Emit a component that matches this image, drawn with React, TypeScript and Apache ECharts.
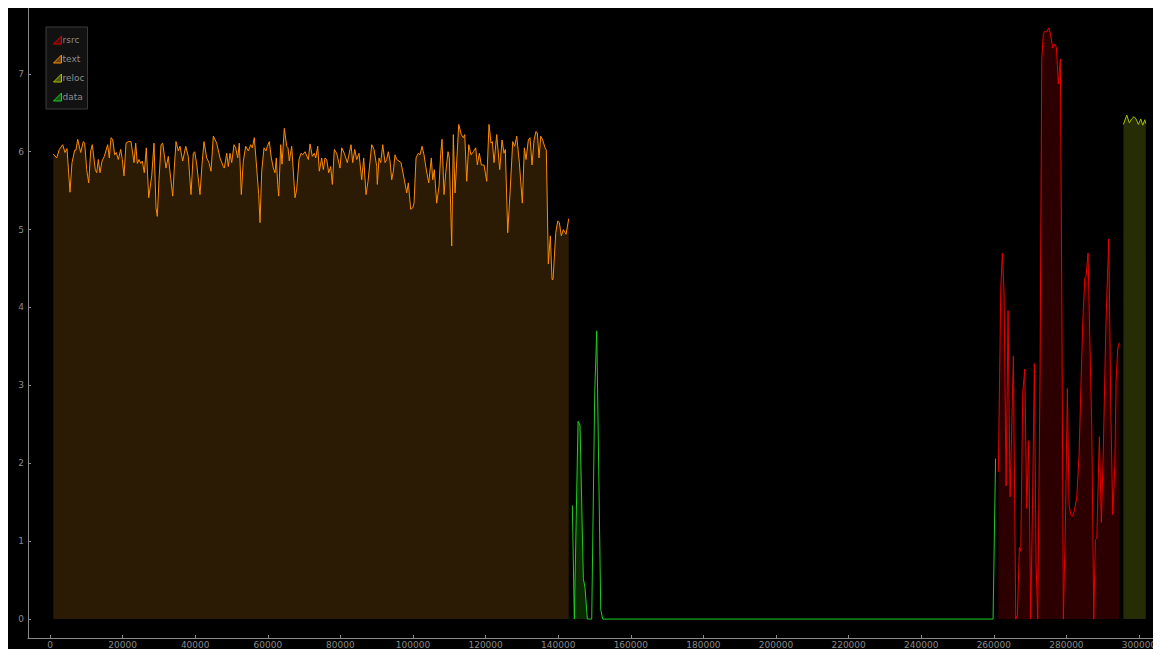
import { useEffect, useRef } from "react";
import * as echarts from "echarts";

// Section names (legend order)
const seriesNames = ["rsrc", "text", "reloc", "data"];

// Tick values
const xTickValues = [0, 20000, 40000, 60000, 80000, 100000, 120000, 140000, 160000, 180000, 200000, 220000, 240000, 260000, 280000, 300000];
const yTickValues = [0, 1, 2, 3, 4, 5, 6, 7];

// [file offset, entropy]
const textPoints: [number, number][] = [
  [909, 5.97], [1846, 5.92], [2562, 6.03], [3499, 6.09], [4133, 5.99], [4684, 6.04], [5510, 5.48], [6061, 5.86],
  [6805, 6.02], [7163, 6.02], [7631, 6.16], [8458, 5.99], [9174, 6.13], [9560, 6.11], [10111, 5.77], [10662, 5.6],
  [11213, 6.01], [11654, 6.09], [12480, 5.77], [12866, 5.73], [13307, 5.9], [13775, 5.73], [14326, 5.88], [14960, 5.94],
  [15896, 6.09], [16337, 5.92], [16806, 6.18], [17274, 6.16], [17825, 5.96], [18266, 5.99], [18817, 5.9], [19478, 6.03],
  [19919, 5.9], [20387, 5.69], [20938, 6.11], [21572, 6.13], [22316, 6.13], [23142, 5.86], [23610, 6.11], [24051, 5.85],
  [24520, 5.9], [24988, 5.85], [25429, 5.88], [25980, 5.73], [26531, 6.05], [27192, 5.41], [28018, 5.69], [28652, 6.11],
  [29203, 5.28], [29561, 5.17], [30030, 5.64], [30581, 6.09], [31049, 6.11], [31958, 5.79], [32592, 5.94], [33253, 5.66],
  [33804, 5.43], [34245, 5.79], [34713, 6.13], [35347, 6.01], [35815, 6.07], [36559, 5.88], [37385, 6.07], [38102, 5.94],
  [38846, 5.45], [39479, 5.98], [39865, 6.0], [40416, 5.84], [41325, 5.45], [41876, 5.84], [42427, 6.13], [43171, 5.92],
  [43805, 5.86], [44356, 5.75], [44989, 6.2], [45926, 6.11], [46835, 5.92], [47744, 5.81], [48020, 5.79], [48681, 5.98],
  [49122, 5.81], [49590, 5.98], [50058, 5.86], [50692, 6.09], [51160, 6.05], [51711, 5.92], [52152, 6.11], [52703, 5.45],
  [53254, 5.88], [53915, 6.07], [54632, 6.01], [55293, 6.09], [55734, 6.05], [56285, 6.18], [56946, 5.79], [57497, 5.45],
  [57855, 5.09], [58323, 5.75], [58957, 6.05], [59508, 6.01], [59866, 6.07], [60417, 6.13], [60968, 5.92], [61519, 5.79],
  [61988, 5.73], [62346, 5.92], [62732, 5.58], [63007, 5.43], [63558, 6.09], [63916, 5.84], [64550, 6.3], [65211, 6.07],
  [65569, 6.05], [65927, 5.88], [66588, 6.07], [67498, 5.41], [67966, 5.52], [68600, 5.9], [69151, 5.98], [69619, 5.96],
  [70253, 6.0], [71162, 5.9], [71630, 6.1], [72264, 5.94], [72815, 5.98], [73200, 5.92], [73751, 6.07], [74192, 5.75],
  [74853, 5.92], [75294, 5.77], [75763, 5.92], [76231, 5.9], [76782, 5.73], [77333, 5.81], [77774, 5.58], [78325, 6.03],
  [78986, 5.98], [79895, 5.79], [80363, 6.05], [81080, 5.98], [81906, 5.86], [82926, 6.09], [83394, 5.86], [83945, 6.03],
  [84496, 5.9], [85130, 5.98], [85873, 5.64], [86424, 5.92], [87058, 5.45], [87609, 5.62], [88628, 6.09], [89262, 6.03],
  [90006, 5.81], [90171, 5.58], [90640, 5.92], [91108, 5.86], [91659, 6.09], [92293, 5.86], [92761, 5.9], [93202, 6.0],
  [93670, 5.88], [94138, 5.64], [94579, 5.75], [95048, 5.96], [95516, 5.9], [96701, 5.86], [97610, 5.64], [98271, 5.47],
  [98712, 5.6], [99373, 5.26], [99924, 5.28], [100282, 5.34], [100833, 5.92], [101467, 5.98], [101935, 5.96], [102486, 6.07],
  [103037, 5.96], [103588, 5.79], [104332, 5.6], [105048, 5.92], [105434, 5.64], [105875, 5.77], [106536, 5.34], [107170, 5.56],
  [107638, 5.98], [107996, 6.16], [108547, 5.45], [109016, 5.73], [109649, 6.0], [110007, 5.92], [110668, 4.79], [111109, 6.22],
  [111578, 5.47], [112597, 6.35], [113313, 6.22], [113864, 6.18], [114250, 6.22], [114801, 5.62], [115352, 6.09], [115985, 5.96],
  [116619, 6.0], [117280, 6.05], [117721, 5.83], [118272, 5.98], [118823, 5.83], [119567, 5.83], [120311, 5.62], [120945, 6.35],
  [121496, 6.11], [121854, 6.13], [122322, 5.86], [123066, 6.22], [123893, 5.77], [124526, 6.15], [125077, 5.98], [125435, 6.03],
  [126097, 4.96], [126730, 5.47], [127474, 6.13], [128025, 6.07], [128576, 6.2], [129292, 5.86], [130119, 5.34], [130670, 6.05],
  [131138, 5.9], [131772, 6.15], [132240, 6.18], [132791, 5.83], [133342, 6.15], [133893, 6.26], [134251, 6.24], [134720, 5.92],
  [135188, 6.2], [135739, 6.15], [136373, 6.05], [136731, 6.02], [137282, 4.56], [137833, 4.92], [138301, 4.36], [138577, 4.36],
  [139321, 4.96], [139872, 5.11], [140313, 5.09], [140864, 4.92], [141415, 5.0], [142158, 4.94], [142902, 5.14],
];

const dataPoints: [number, number][] = [
  [143895, 1.46], [144446, 0], [145464, 2.54], [146015, 2.49], [146924, 0.52], [147393, 0.4], [148026, 0],
  [149238, 0], [150065, 2.92], [150616, 3.7], [151718, 0.12], [152269, 0], [259797, 0], [260486, 2.06],
];

const dataFillPoints: [number, number][] = [
  [144446, 0], [145464, 2.54], [146015, 2.49], [146924, 0.52], [147393, 0.4], [148026, 0],
];

const rsrcPoints: [number, number][] = [
  [261257, 1.89], [261919, 4.25], [262359, 4.7], [262827, 4.2], [263378, 1.71], [263929, 3.96], [264480, 1.57],
  [265389, 3.38], [266050, 0], [266491, 0.05], [267042, 0.92], [267427, 0.87], [267978, 2.91], [268529, 3.21],
  [269080, 1.42], [269631, 2.29], [270182, 0], [270733, 1.71], [271174, 3.28], [271643, 0.72], [272111, 0],
  [272745, 3.21], [273213, 7.19], [273654, 7.52], [274123, 7.55], [274591, 7.54], [275225, 7.59], [275693, 7.49],
  [276244, 7.33], [276795, 7.38], [277236, 7.34], [277787, 6.87], [278338, 7.19], [278724, 4.2], [279165, 0],
  [279716, 1.22], [280267, 2.96], [280735, 1.47], [281203, 1.34], [281644, 1.32], [282195, 1.39], [282856, 1.57],
  [283490, 2.11], [284041, 3.06], [284509, 3.81], [285060, 4.38], [285418, 4.4], [285969, 4.7], [286437, 3.61],
  [286988, 2.46], [287539, 0], [287980, 1.02], [288366, 1.04], [289082, 2.34], [289633, 1.24], [290184, 2.21],
  [290845, 3.71], [291204, 4.25], [291672, 4.88], [292223, 2.71], [292774, 1.34], [293325, 1.96], [293683, 3.06],
  [294151, 3.48], [294592, 3.55],
];

const relocPoints: [number, number][] = [
  [295694, 6.35], [296630, 6.47], [297347, 6.37], [297953, 6.42], [298642, 6.45], [299193, 6.42], [299826, 6.35],
  [300488, 6.42], [301039, 6.34], [301590, 6.41], [301865, 6.36],
];

const lineColors: Record<string, string> = {
  rsrc: "#e60000",
  text: "#ff8c00",
  reloc: "#a8bf00",
  data: "#1fcc1f",
};
const fillColors: Record<string, string> = {
  rsrc: "#2c0000",
  text: "#2b1a04",
  reloc: "#262c06",
  data: "#0c2a02",
};
const iconColors: Record<string, string> = {
  rsrc: "#5a0808",
  text: "#6b4210",
  reloc: "#4d560c",
  data: "#0f5a0f",
};

const FONT = "DejaVu Sans";
const AXIS_COLOR = "#8a8a8a";

export default function App() {
  const ref = useRef<HTMLDivElement>(null);

  useEffect(() => {
    if (!ref.current) return;
    const chart = echarts.init(ref.current, undefined, { renderer: "svg" });

    const lineSeries = (name: string, pts: [number, number][], withArea: boolean, z: number) => ({
      name,
      type: "line",
      data: pts,
      showSymbol: false,
      symbol: "none",
      z,
      lineStyle: { color: lineColors[name], width: 1 },
      itemStyle: { color: lineColors[name] },
      areaStyle: withArea ? { color: fillColors[name], opacity: 1 } : undefined,
    });

    chart.setOption({
      animation: false,
      backgroundColor: "#000000",
      grid: { left: 20, right: 0, top: 0, bottom: 9, containLabel: false },
      legend: {
        orient: "vertical",
        left: 38,
        top: 19,
        padding: [8, 3, 7, 7],
        itemGap: 9,
        itemWidth: 8,
        itemHeight: 10,
        backgroundColor: "#121212",
        borderColor: "#3c3c3c",
        borderWidth: 1,
        textStyle: { color: "#8c8c8c", fontSize: 9, fontFamily: FONT, padding: [0, 0, 0, -4], lineHeight: 10 },
        data: seriesNames.map((n) => ({
          name: n,
          icon: "path://M0,10 L10,0 L10,10 Z",
          itemStyle: { color: iconColors[n], borderColor: lineColors[n], borderWidth: 1 },
        })),
      },
      xAxis: {
        type: "value",
        min: -6060,
        max: 306060,
        splitLine: { show: false },
        axisLine: { show: true, onZero: false, lineStyle: { color: AXIS_COLOR, width: 1 } },
        axisTick: { show: true, inside: true, length: 3, customValues: xTickValues, lineStyle: { color: AXIS_COLOR } },
        axisLabel: {
          customValues: xTickValues,
          formatter: (v: number) => String(v),
          color: AXIS_COLOR,
          fontSize: 9,
          fontFamily: FONT,
          margin: 2,
        },
      },
      yAxis: {
        type: "value",
        min: -0.243,
        max: 7.845,
        splitLine: { show: false },
        axisLine: { show: true, onZero: false, lineStyle: { color: AXIS_COLOR, width: 1 } },
        axisTick: { show: true, inside: true, length: 3, customValues: yTickValues, lineStyle: { color: AXIS_COLOR } },
        axisLabel: {
          customValues: yTickValues,
          formatter: (v: number) => String(v),
          color: AXIS_COLOR,
          fontSize: 9,
          fontFamily: FONT,
          margin: 4,
        },
      },
      series: [
        lineSeries("rsrc", rsrcPoints, true, 3),
        lineSeries("text", textPoints, true, 2),
        lineSeries("reloc", relocPoints, true, 2),
        {
          name: "data",
          type: "line",
          data: dataFillPoints,
          showSymbol: false,
          symbol: "none",
          z: 1,
          lineStyle: { width: 0, opacity: 0 },
          itemStyle: { color: lineColors.data },
          areaStyle: { color: fillColors.data, opacity: 1 },
        },
        lineSeries("data", dataPoints, false, 4),
      ],
    });

    return () => chart.dispose();
  }, []);

  return <div ref={ref} style={{ width: 1153, height: 641, background: "#000" }} />;
}
